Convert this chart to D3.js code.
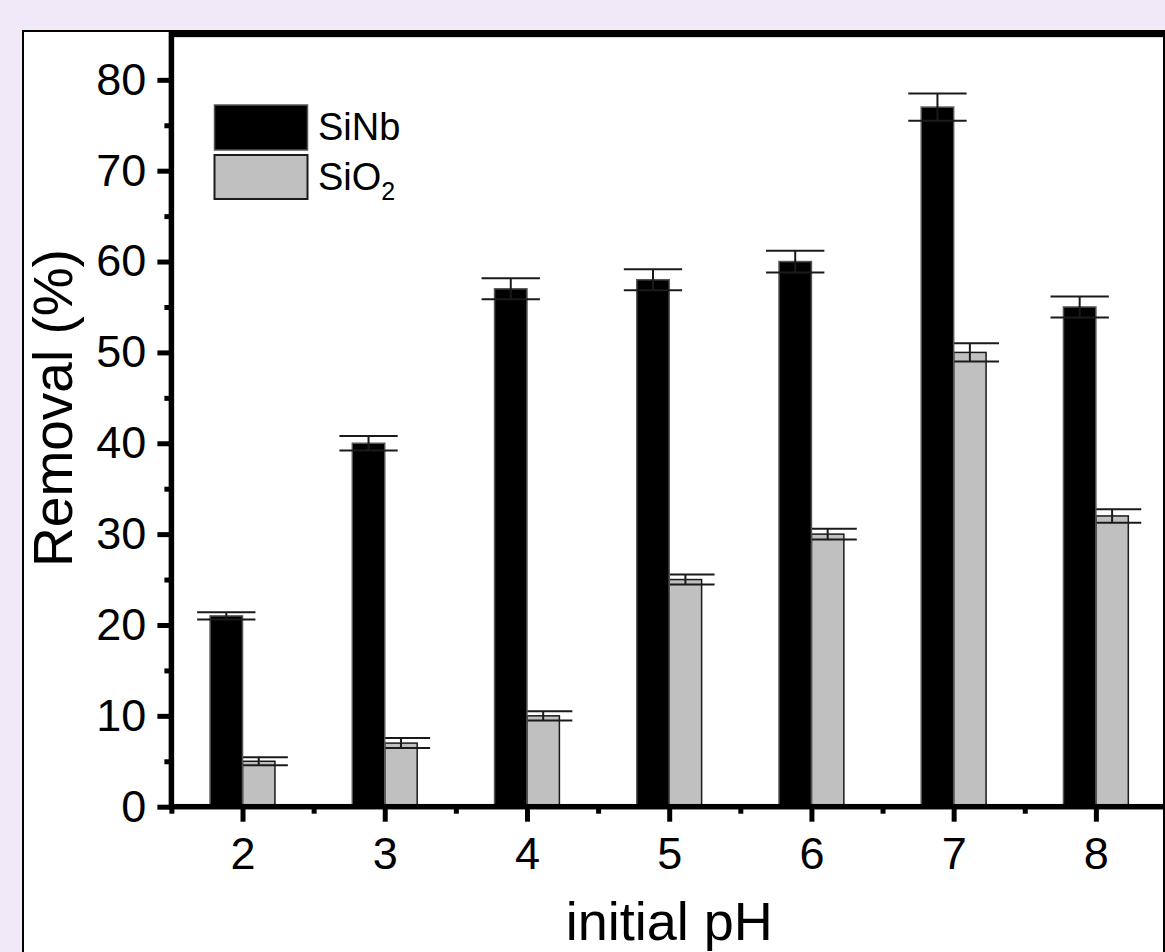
<!DOCTYPE html>
<html>
<head>
<style>
  body { margin: 0; background: #f0e9f8; }
  svg { display: block; }
  text { font-family: "Liberation Sans", Arial, sans-serif; fill: #000; }
  .axis text { font-size: 45px; }
  .axis line { stroke: #000; stroke-width: 5; }
  .bar { stroke-width: 1.5; }
  .err { stroke: #1a1a1a; stroke-width: 2; fill: none; }
</style>
</head>
<body>
<svg width="1165" height="952"></svg>
<script src="https://cdn.jsdelivr.net/npm/d3@7"></script>
<script>

// values
var phs = [2, 3, 4, 5, 6, 7, 8];
var sinb = [21, 40, 57, 58, 60, 77, 55];
var sinbErr = [0.4, 0.8, 1.15, 1.15, 1.2, 1.5, 1.15];
var sio2 = [5, 7, 10, 25, 30, 50, 32];
var sio2Err = [0.45, 0.55, 0.5, 0.55, 0.6, 1.0, 0.75];
var yTicks = [0, 10, 20, 30, 40, 50, 60, 70, 80];
var yMinor = [5, 15, 25, 35, 45, 55, 65, 75];
var xMinor = [1.5, 2.5, 3.5, 4.5, 5.5, 6.5, 7.5, 8.5];

var svg = d3.select("svg");

// white panel, cut at the right edge like the reference
svg.append("clipPath").attr("id", "panel")
  .append("rect").attr("x", 23).attr("y", 31).attr("width", 1141).attr("height", 1000);

svg.append("rect")
    .attr("x", 23).attr("y", 31).attr("width", 1141).attr("height", 1000)
    .attr("fill", "#fff").attr("stroke", "#000").attr("stroke-width", 2);

var g = svg.append("g").attr("clip-path", "url(#panel)");

var x = d3.scaleLinear().domain([1.5, 8.5]).range([171.4, 1167]);
var y = d3.scaleLinear().domain([0, 85]).range([806.7, 34.4]);

var barW = (x(2.228) - x(2));
var capW = (x(2.41) - x(2));

function series(vals, errs, side, fill, edge) {
  var s = g.append("g");
  s.selectAll("rect").data(vals).enter().append("rect")
      .attr("class", "bar")
      .attr("x", function(d, i) { return side < 0 ? x(phs[i]) - barW : x(phs[i]); })
      .attr("y", function(d) { return y(d); })
      .attr("width", barW)
      .attr("height", function(d) { return y(0) - y(d); })
      .attr("fill", fill)
      .attr("stroke", edge);

  var e = s.selectAll(".eb").data(vals).enter().append("g").attr("class", "err");
  function cx(i) { return x(phs[i]) + side * barW / 2; }
  e.append("line")
      .attr("x1", function(d, i) { return cx(i); })
      .attr("x2", function(d, i) { return cx(i); })
      .attr("y1", function(d, i) { return y(d + errs[i]); })
      .attr("y2", function(d, i) { return y(d - errs[i]); });
  [1, -1].forEach(function(sg) {
    e.append("line")
        .attr("x1", function(d, i) { return cx(i) - capW / 2; })
        .attr("x2", function(d, i) { return cx(i) + capW / 2; })
        .attr("y1", function(d, i) { return y(d + sg * errs[i]); })
        .attr("y2", function(d, i) { return y(d + sg * errs[i]); });
  });
}

series(sio2, sio2Err, 1, "#c0c0c0", "#1a1a1a");
series(sinb, sinbErr, -1, "#000", "#555");

// axes
var yAxis = g.append("g").attr("class", "axis")
    .attr("transform", "translate(" + x(1.5) + ",0)")
    .call(d3.axisLeft(y).tickValues(yTicks).tickSize(14).tickPadding(11));
yAxis.select(".domain").remove();

var yAxisMinor = g.append("g").attr("class", "axis")
    .attr("transform", "translate(" + x(1.5) + ",0)")
    .call(d3.axisLeft(y).tickValues(yMinor).tickSize(7).tickFormat(""));
yAxisMinor.select(".domain").remove();

var xAxis = g.append("g").attr("class", "axis")
    .attr("transform", "translate(0," + y(0) + ")")
    .call(d3.axisBottom(x).tickValues(phs).tickSize(15).tickPadding(15).tickFormat(d3.format("d")));
xAxis.select(".domain").remove();

var xAxisMinor = g.append("g").attr("class", "axis")
    .attr("transform", "translate(0," + y(0) + ")")
    .call(d3.axisBottom(x).tickValues(xMinor).tickSize(7).tickFormat(""));
xAxisMinor.select(".domain").remove();

// frame
g.append("rect")
    .attr("x", x(1.5)).attr("y", y(85))
    .attr("width", x(8.5) - x(1.5)).attr("height", y(0) - y(85))
    .attr("fill", "none").attr("stroke", "#000").attr("stroke-width", 5.5);

// titles
g.append("text")
    .attr("transform", "translate(72," + 408 + ") rotate(-90)")
    .attr("text-anchor", "middle")
    .attr("font-size", 55)
    .text("Removal (%)");

g.append("text")
    .attr("x", (x(1.5) + x(8.5)) / 2).attr("y", 940)
    .attr("text-anchor", "middle")
    .attr("font-size", 54)
    .text("initial pH");

// legend
var legend = g.append("g");
legend.append("rect").attr("x", 214.5).attr("y", 105).attr("width", 93).attr("height", 45)
    .attr("fill", "#000").attr("stroke", "#555").attr("stroke-width", 1.5);
legend.append("rect").attr("x", 214.5).attr("y", 155).attr("width", 93).attr("height", 44)
    .attr("fill", "#c0c0c0").attr("stroke", "#1a1a1a").attr("stroke-width", 2);
legend.append("text").attr("x", 318).attr("y", 140).attr("font-size", 38).text("SiNb");
var t2 = legend.append("text").attr("x", 318).attr("y", 190).attr("font-size", 38);
t2.append("tspan").text("SiO");
t2.append("tspan").attr("font-size", 25).attr("dy", 10).text("2");

</script>
</body>
</html>
